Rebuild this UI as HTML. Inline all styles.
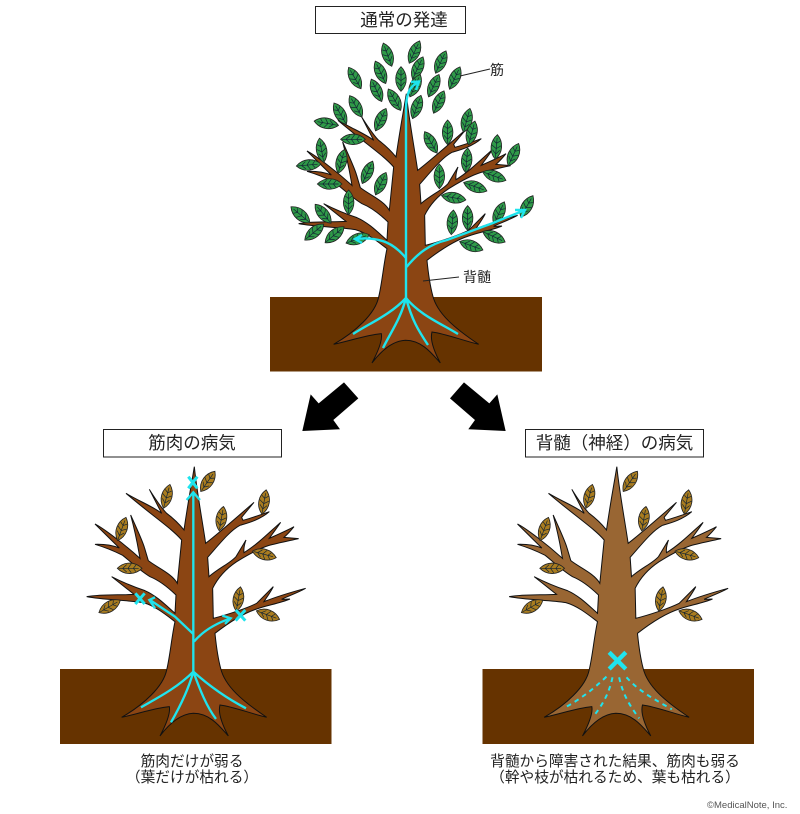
<!DOCTYPE html>
<html><head><meta charset="utf-8"><style>
html,body{margin:0;padding:0;background:#fff}
svg{display:block}
text{font-family:"Liberation Sans","Noto Sans CJK JP",sans-serif;fill:#222}
</style></head><body>
<svg xmlns="http://www.w3.org/2000/svg" width="800" height="814" viewBox="0 0 800 814">
<defs>
<path id="tr" d="M403,20 C410,90 425,170 437,250 C470,225 510,190 582,127 L545,172 L549,181 C570,175 600,165 628,155 C600,180 560,190 540,196 C510,212 480,250 443,292 L447,350 C475,325 510,310 528,290 L558,240 Q550,262 552,278 C590,255 625,220 662,187 C650,205 635,225 628,235 C650,225 680,212 702,200 C690,215 680,225 672,232 L716,236 C680,244 650,250 625,257 C590,268 555,290 530,305 C500,325 475,350 458,385 L460,475 C500,465 560,445 590,430 C610,410 625,395 640,380 C630,400 618,415 612,425 C650,410 700,395 737,385 C710,400 680,410 665,418 L690,417 C660,430 620,436 590,447 C550,460 510,485 465,520 C470,570 478,610 482,625 C495,680 550,725 620,772 C570,760 520,740 480,735 C473,760 490,800 505,828 C480,800 450,760 400,760 C360,762 325,795 300,828 C320,790 332,760 328,740 C280,745 240,760 185,772 C250,735 310,680 320,630 C330,590 335,530 345,485 C315,462 285,438 250,428 C200,420 130,420 80,410 C130,402 180,406 222,403 L155,350 C190,368 225,382 255,392 C290,407 320,438 345,460 L348,405 C320,378 295,360 270,350 C240,332 212,305 188,286 C160,272 135,262 105,253 C135,252 160,257 178,264 L105,192 C130,205 190,250 240,295 C235,270 232,240 212,165 C228,200 250,250 254,265 L265,302 C290,322 335,340 352,370 L365,240 C335,205 280,170 198,100 C240,125 280,140 305,160 L268,88 C285,115 305,145 320,160 C340,175 360,195 372,210 C385,120 395,70 403,20 Z" stroke="#111" stroke-width="3" stroke-linejoin="miter"/>
<g id="lf"><path d="M0,-38 C20,-18 22,14 0,36 C-22,14 -20,-18 0,-38Z" stroke="#222" stroke-width="2.5"/><path d="M0,-28 V32 M0,-12 L10,-20 M0,-12 L-10,-20 M0,4 L14,-6 M0,4 L-14,-6 M0,20 L11,8 M0,20 L-11,8" fill="none" stroke="#123" stroke-width="2"/></g>
<g id="by" fill="#a97c1f">
<use href="#lf" transform="translate(320,110) rotate(15)"/>
<use href="#lf" transform="translate(443,65) rotate(35)"/>
<use href="#lf" transform="translate(484,177) rotate(10)"/>
<use href="#lf" transform="translate(612,127) rotate(10)"/>
<use href="#lf" transform="translate(185,208) rotate(20)"/>
<use href="#lf" transform="translate(208,325) rotate(90)"/>
<use href="#lf" transform="translate(148,440) rotate(60)"/>
<use href="#lf" transform="translate(535,418) rotate(10)"/>
<use href="#lf" transform="translate(612,283) rotate(105)"/>
<use href="#lf" transform="translate(623,465) rotate(110)"/>
</g>
</defs>

<!-- top ground -->
<rect x="270" y="297" width="272" height="74.500" fill="#663300"/>
<g transform="translate(272,87) scale(.3333)"><use href="#tr" fill="#8b4513"/></g>
<g transform="translate(280,30) scale(.3333)" fill="#2f9a48">
<use href="#lf" transform="translate(323,75) rotate(-20)"/>
<use href="#lf" transform="translate(403,67) rotate(25)"/>
<use href="#lf" transform="translate(482,97) rotate(25)"/>
<use href="#lf" transform="translate(302,128) rotate(-25)"/>
<use href="#lf" transform="translate(413,115) rotate(25)"/>
<use href="#lf" transform="translate(225,145) rotate(-30)"/>
<use href="#lf" transform="translate(363,148)"/>
<use href="#lf" transform="translate(405,168) rotate(25)"/>
<use href="#lf" transform="translate(461,168) rotate(25)"/>
<use href="#lf" transform="translate(524,145) rotate(25)"/>
<use href="#lf" transform="translate(290,182) rotate(-25)"/>
<use href="#lf" transform="translate(344,210) rotate(-30)"/>
<use href="#lf" transform="translate(476,217) rotate(25)"/>
<use href="#lf" transform="translate(410,232) rotate(20)"/>
<use href="#lf" transform="translate(228,230) rotate(-30)"/>
<use href="#lf" transform="translate(181,252) rotate(-30)"/>
<use href="#lf" transform="translate(302,270) rotate(25)"/>
<use href="#lf" transform="translate(140,280) rotate(-80)"/>
<use href="#lf" transform="translate(218,328) rotate(90)"/>
<use href="#lf" transform="translate(453,338) rotate(-30)"/>
<use href="#lf" transform="translate(503,308)"/>
<use href="#lf" transform="translate(560,272) rotate(15)"/>
<use href="#lf" transform="translate(575,310) rotate(15)"/>
<use href="#lf" transform="translate(125,362) rotate(-10)"/>
<use href="#lf" transform="translate(85,405) rotate(85)"/>
<use href="#lf" transform="translate(184,395) rotate(15)"/>
<use href="#lf" transform="translate(649,352) rotate(5)"/>
<use href="#lf" transform="translate(700,375) rotate(25)"/>
<use href="#lf" transform="translate(262,428) rotate(25)"/>
<use href="#lf" transform="translate(148,462) rotate(90)"/>
<use href="#lf" transform="translate(302,462) rotate(25)"/>
<use href="#lf" transform="translate(560,392) rotate(5)"/>
<use href="#lf" transform="translate(478,440)"/>
<use href="#lf" transform="translate(642,438) rotate(110)"/>
<use href="#lf" transform="translate(585,470) rotate(110)"/>
<use href="#lf" transform="translate(206,518)"/>
<use href="#lf" transform="translate(520,503) rotate(100)"/>
<use href="#lf" transform="translate(62,555) rotate(-50)"/>
<use href="#lf" transform="translate(130,552) rotate(-40)"/>
<use href="#lf" transform="translate(517,578) rotate(5)"/>
<use href="#lf" transform="translate(563,565)"/>
<use href="#lf" transform="translate(657,550) rotate(25)"/>
<use href="#lf" transform="translate(740,530) rotate(30)"/>
<use href="#lf" transform="translate(102,607) rotate(50)"/>
<use href="#lf" transform="translate(163,615) rotate(50)"/>
<use href="#lf" transform="translate(232,627) rotate(70)"/>
<use href="#lf" transform="translate(641,620) rotate(115)"/>
<use href="#lf" transform="translate(573,647) rotate(110)"/>
</g>
<g fill="none" stroke="#1fe4ee" stroke-width="2.400">
<path d="M406,299 V110 C406,95 409,86 419,82 M411,82 L419,81.500 L416,90"/>
<path d="M406,258 C395,245 382,236 355,239 M362,235 L355,239 L362,243"/>
<path d="M406.500,267 C418,253 430,244 447,240 L493,223 L525,210 M515,210 L525,210 L521,218"/>
<path d="M406,298 C390,315 370,323 353,334 M406,298 C400,320 392,330 383,348 M406,298 C412,320 418,330 428,345 M406,298 C420,315 440,323 458,334"/>
</g>
<path d="M490,69 L460,76 M459,277 L423,281" stroke="#222" stroke-width="1" fill="none"/>
<text x="490" y="75" font-size="14">筋</text>
<text x="463" y="282" font-size="14">背髄</text>

<!-- arrows -->
<g transform="translate(270,220) scale(.3333)" fill="#000">
<polygon points="222,487 265,535 190,600 210,628 97,633 122,523 146,550"/>
<polygon points="582,487 540,535 615,600 595,628 707,633 682,523 658,550"/>
</g>

<!-- title boxes -->
<g fill="#fff" stroke="#222" stroke-width="1">
<rect x="315.500" y="6.500" width="150" height="27"/>
<rect x="103.500" y="429.500" width="178" height="27.500"/>
<rect x="525.500" y="429.500" width="178" height="27.500"/>
</g>
<g font-size="17.500" text-anchor="middle">
<text x="404" y="26">通常の発達</text>
<text x="192" y="449">筋肉の病気</text>
<text x="614.500" y="449">背髄（神経）の病気</text>
</g>

<!-- left -->
<rect x="60" y="669" width="271.500" height="75" fill="#663300"/>
<g transform="translate(60,460) scale(.3333)">
<use href="#tr" fill="#8b4513"/>
<use href="#by"/>
<g fill="none" stroke="#1fe4ee" stroke-width="7">
<path d="M400,635 V100 M380,120 L400,97 L420,120"/>
<path d="M385,50 L412,85 M412,50 L385,85" stroke-width="9"/>
<path d="M400,522 L345,470 L270,420 M285,412 L268,420 L285,445"/>
<path d="M226,400 L254,432 M254,400 L226,432" stroke-width="9"/>
<path d="M402,545 Q440,500 512,475 M487,467 L512,475 L495,492"/>
<path d="M527,450 L556,482 M556,450 L527,482" stroke-width="9"/>
<path d="M400,635 C350,685 290,715 243,742 M400,635 C385,690 360,740 333,787 M400,635 C420,690 440,740 468,777 M400,635 C450,680 500,715 558,745"/>
</g>
</g>

<!-- right -->
<rect x="482.500" y="669" width="271.500" height="75" fill="#663300"/>
<g transform="translate(482.500,460) scale(.3333)">
<use href="#tr" fill="#996633"/>
<use href="#by"/>
<path d="M380,577 L430,627 M430,577 L380,627" stroke="#1fe4ee" stroke-width="13" fill="none"/>
<g fill="none" stroke="#1fe4ee" stroke-width="6" stroke-dasharray="14 13">
<path d="M372,650 C330,690 290,720 243,745"/>
<path d="M390,652 C380,700 360,735 332,770"/>
<path d="M410,652 C420,700 440,735 470,775"/>
<path d="M432,652 C470,695 520,720 568,748"/>
</g>
</g>

<!-- captions -->
<g font-size="14.700" text-anchor="middle">
<text x="192" y="766">筋肉だけが弱る</text>
<text x="192" y="782">（葉だけが枯れる）</text>
<text x="615" y="766">背髄から障害された結果、筋肉も弱る</text>
<text x="615" y="782">（幹や枝が枯れるため、葉も枯れる）</text>
</g>
<text x="707" y="808" font-size="9.500" style="fill:#555">©MedicalNote, Inc.</text>
</svg>
</body></html>
